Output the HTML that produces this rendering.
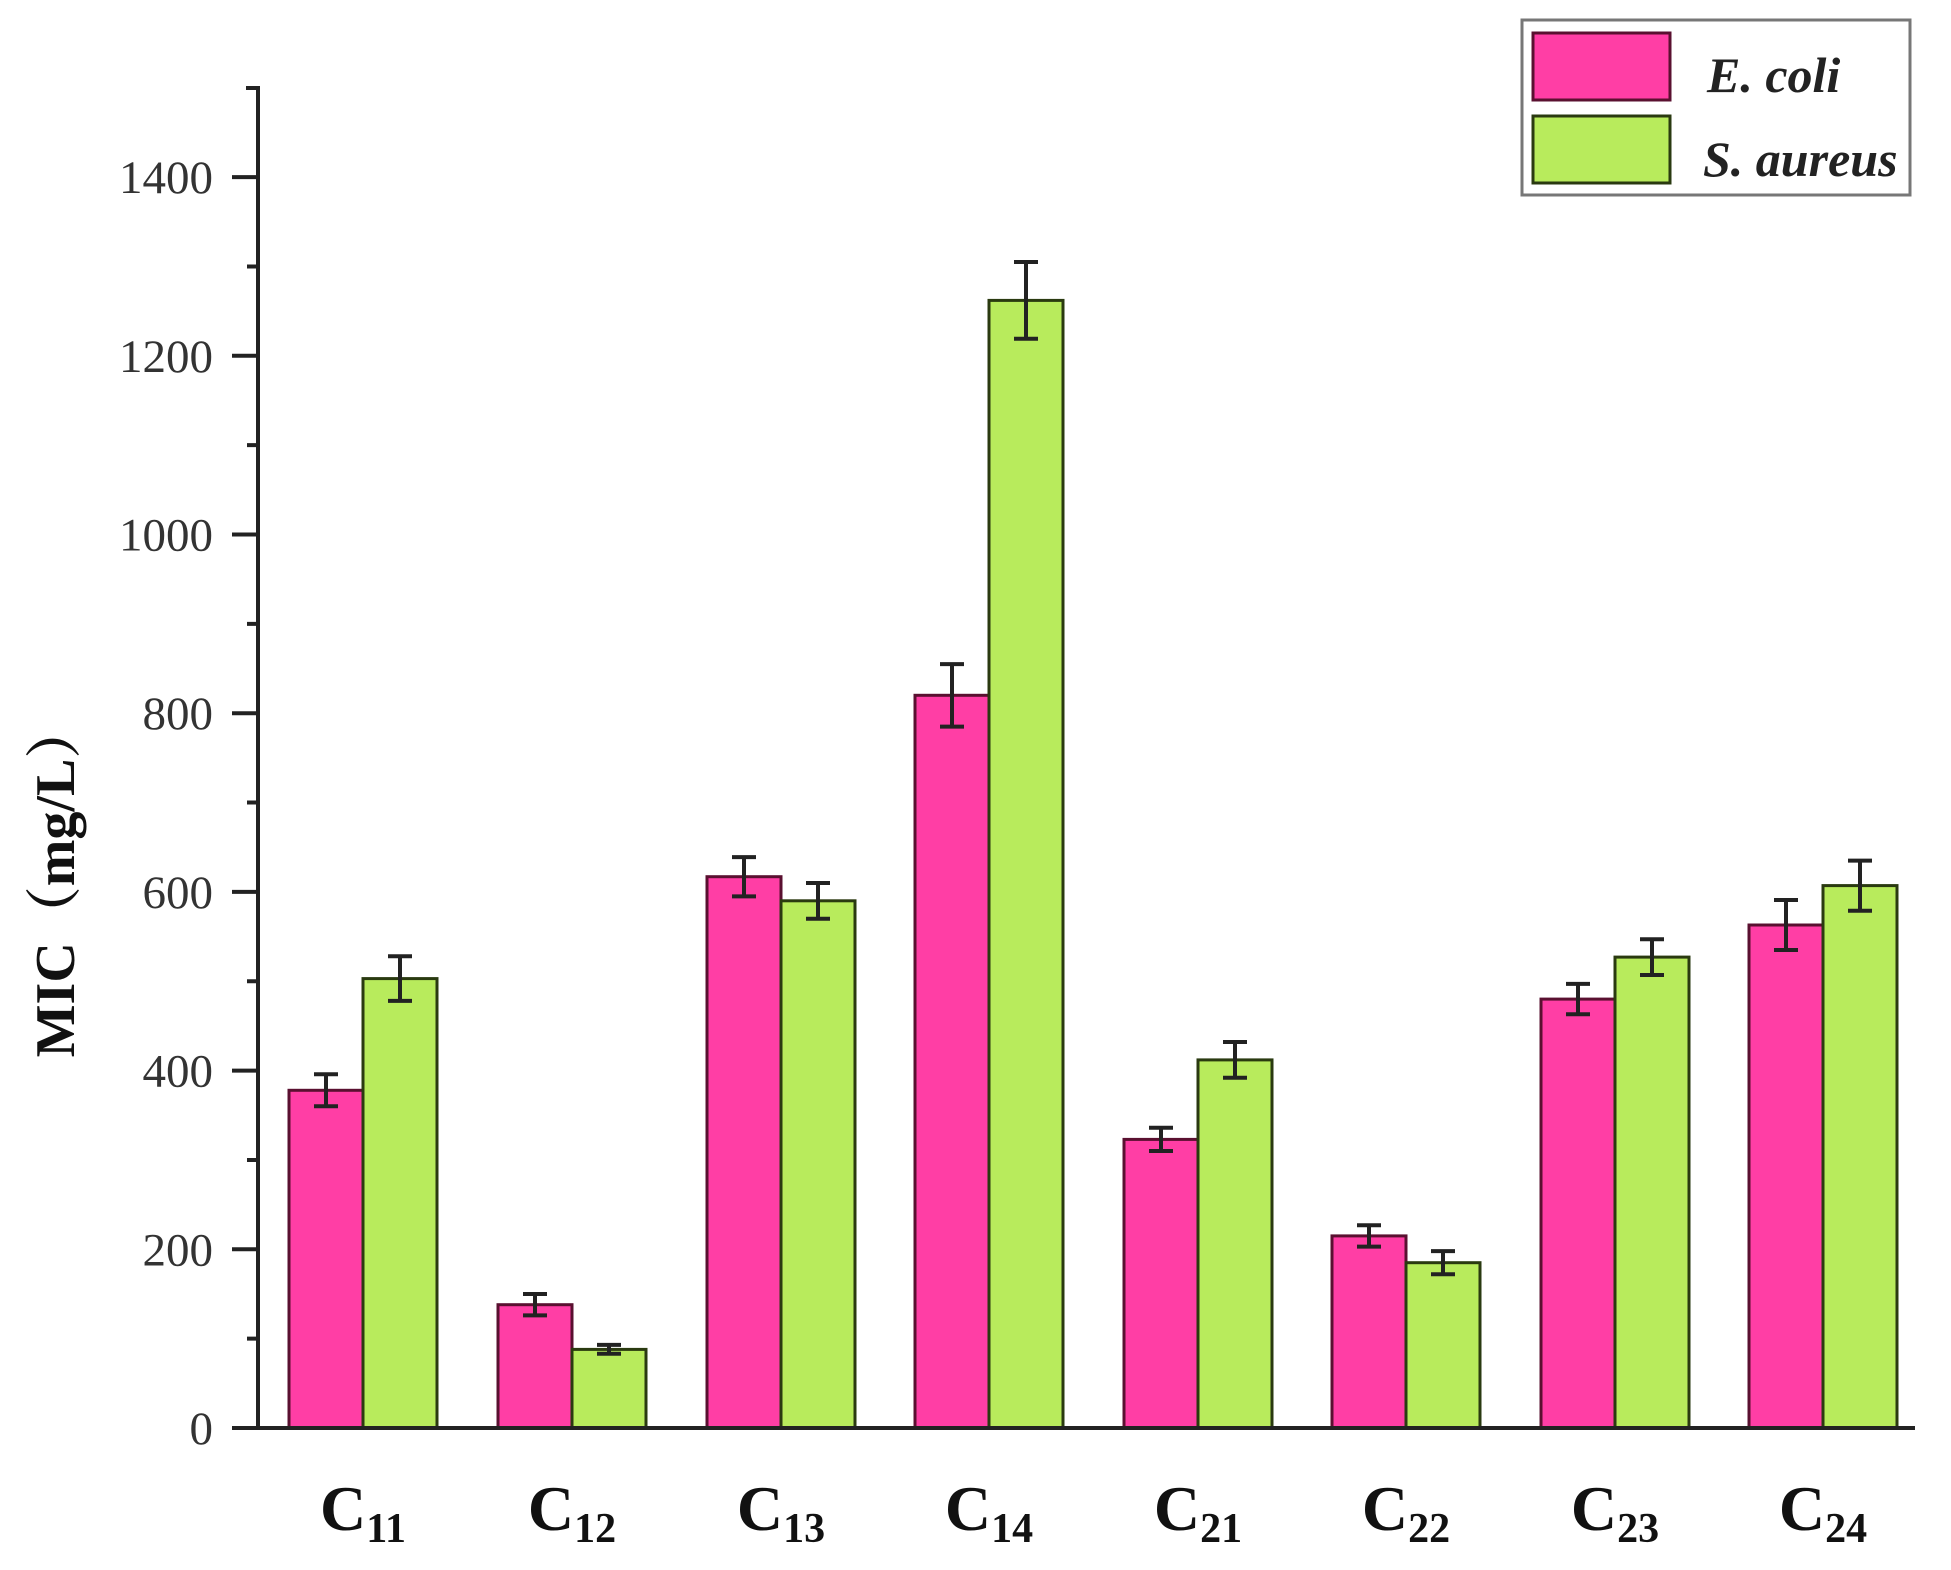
<!DOCTYPE html>
<html><head><meta charset="utf-8"><style>body{margin:0;background:#fff}</style></head>
<body>
<svg width="1951" height="1565" xmlns="http://www.w3.org/2000/svg" font-family="Liberation Serif, serif">
<rect width="1951" height="1565" fill="#fff"/>
<g stroke-width="3">
<g fill="#ff3ea5" stroke="#5a1030">
<rect x="289" y="1090.3" width="74" height="337.7"/>
<rect x="498" y="1304.7" width="74" height="123.3"/>
<rect x="707" y="876.7" width="74" height="551.3"/>
<rect x="915" y="695.3" width="74" height="732.7"/>
<rect x="1124" y="1139.4" width="74" height="288.6"/>
<rect x="1332" y="1235.9" width="74" height="192.1"/>
<rect x="1541" y="999.1" width="74" height="428.9"/>
<rect x="1749" y="925.0" width="74" height="503.0"/>
</g>
<g fill="#b8eb5c" stroke="#2a3a10">
<rect x="363" y="978.6" width="74" height="449.4"/>
<rect x="572" y="1349.4" width="74" height="78.6"/>
<rect x="781" y="900.8" width="74" height="527.2"/>
<rect x="989" y="300.4" width="74" height="1127.6"/>
<rect x="1198" y="1059.9" width="74" height="368.1"/>
<rect x="1406" y="1262.7" width="74" height="165.3"/>
<rect x="1615" y="957.1" width="74" height="470.9"/>
<rect x="1823" y="885.6" width="74" height="542.4"/>
</g>
</g>
<g stroke="#222" stroke-width="4" fill="none">
<path d="M326 1074.2V1106.3M314 1074.2H338M314 1106.3H338"/>
<path d="M400 956.2V1000.9M388 956.2H412M388 1000.9H412"/>
<path d="M535 1294.0V1315.4M523 1294.0H547M523 1315.4H547"/>
<path d="M609 1344.9V1353.8M597 1344.9H621M597 1353.8H621"/>
<path d="M744 857.1V896.4M732 857.1H756M732 896.4H756"/>
<path d="M818 883.0V918.7M806 883.0H830M806 918.7H830"/>
<path d="M952 664.1V726.6M940 664.1H964M940 726.6H964"/>
<path d="M1026 262.0V338.8M1014 262.0H1038M1014 338.8H1038"/>
<path d="M1161 1127.8V1151.0M1149 1127.8H1173M1149 1151.0H1173"/>
<path d="M1235 1042.0V1077.8M1223 1042.0H1247M1223 1077.8H1247"/>
<path d="M1369 1225.2V1246.6M1357 1225.2H1381M1357 1246.6H1381"/>
<path d="M1443 1251.1V1274.3M1431 1251.1H1455M1431 1274.3H1455"/>
<path d="M1578 983.9V1014.3M1566 983.9H1590M1566 1014.3H1590"/>
<path d="M1652 939.3V975.0M1640 939.3H1664M1640 975.0H1664"/>
<path d="M1786 900.0V950.0M1774 900.0H1798M1774 950.0H1798"/>
<path d="M1860 860.6V910.7M1848 860.6H1872M1848 910.7H1872"/>
</g>
<g stroke="#222" stroke-width="4" fill="none">
<path d="M246 88H258V1428H1915"/>
<path d="M232 1428H258M247 1338.65H258M232 1249.3H258M247 1159.95H258M232 1070.6H258M247 981.25H258M232 891.9H258M247 802.55H258M232 713.2H258M247 623.85H258M232 534.5H258M247 445.15H258M232 355.8H258M247 266.45H258M232 177.1H258"/>
</g>
<g font-size="47" text-anchor="end" fill="#333">
<text x="213" y="1444">0</text>
<text x="213" y="1265.3">200</text>
<text x="213" y="1086.6">400</text>
<text x="213" y="907.9">600</text>
<text x="213" y="729.2">800</text>
<text x="213" y="550.5">1000</text>
<text x="213" y="371.8">1200</text>
<text x="213" y="193.1">1400</text>
</g>
<g font-size="64" font-weight="bold" text-anchor="middle" fill="#111">
<text x="363" y="1530">C<tspan font-size="42" dy="12">11</tspan></text>
<text x="572" y="1530">C<tspan font-size="42" dy="12">12</tspan></text>
<text x="781" y="1530">C<tspan font-size="42" dy="12">13</tspan></text>
<text x="989" y="1530">C<tspan font-size="42" dy="12">14</tspan></text>
<text x="1198" y="1530">C<tspan font-size="42" dy="12">21</tspan></text>
<text x="1406" y="1530">C<tspan font-size="42" dy="12">22</tspan></text>
<text x="1615" y="1530">C<tspan font-size="42" dy="12">23</tspan></text>
<text x="1823" y="1530">C<tspan font-size="42" dy="12">24</tspan></text>
</g>
<text transform="translate(74,880) rotate(-90)" font-size="56" font-weight="bold" text-anchor="middle" fill="#111" font-family="Liberation Serif, 'Noto Serif CJK SC', serif">MIC（mg/L）</text>
<rect x="1522" y="20" width="388" height="175" fill="#fff" stroke="#777" stroke-width="3"/>
<rect x="1533" y="33" width="137" height="67" fill="#ff3ea5" stroke="#5a1030" stroke-width="3"/>
<rect x="1533" y="116" width="137" height="67" fill="#b8eb5c" stroke="#2a3a10" stroke-width="3"/>
<g font-size="50" font-weight="bold" font-style="italic" fill="#222">
<text x="1707" y="92">E. coli</text>
<text x="1703" y="176">S. aureus</text>
</g>
</svg>
</body></html>
